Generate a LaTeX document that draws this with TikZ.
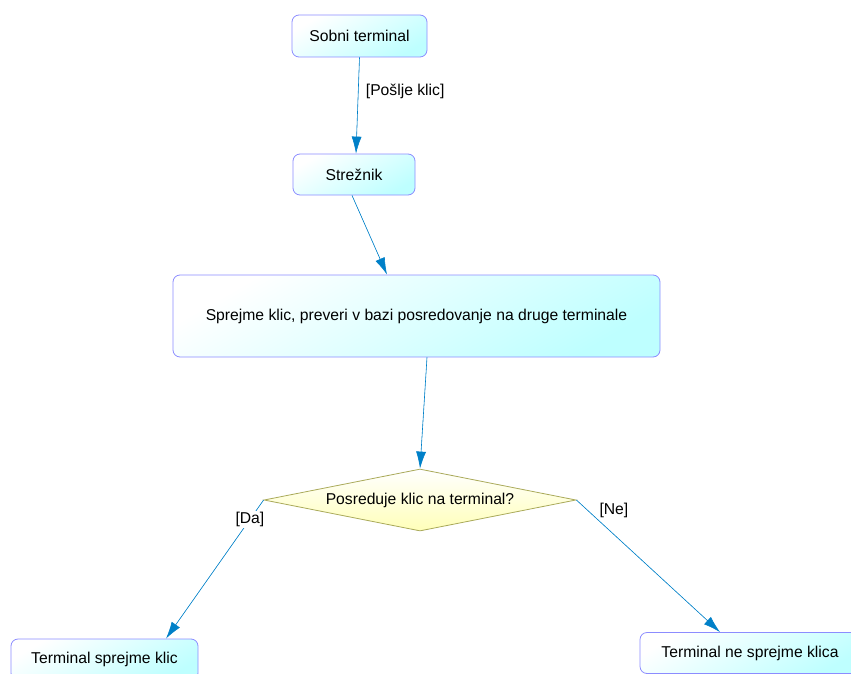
\documentclass[tikz,border=0pt]{standalone}
\usepackage{fontspec}
\setmainfont{Liberation Sans}
\usetikzlibrary{arrows.meta,shapes.geometric}
\definecolor{boxline}{RGB}{140,140,255}
\definecolor{boxfill}{RGB}{190,255,255}
\definecolor{decline}{RGB}{170,170,90}
\definecolor{decfill}{RGB}{255,255,185}
\definecolor{flowblue}{RGB}{0,128,200}
\begin{document}
\begin{tikzpicture}[x=1pt,y=-1pt,
  font=\fontsize{15.7}{18}\selectfont,
  actbox/.style={draw=boxline, line width=0.8pt, rounded corners=7pt, top color=white, bottom color=boxfill, shading angle=30, inner sep=0pt},
  decbox/.style={diamond, draw=decline, line width=0.8pt, top color=white, bottom color=decfill, inner sep=0pt, aspect=5},
  flow/.style={draw=flowblue, line width=0.6pt, -{Latex[length=17pt,width=10pt]}, fill=flowblue}]
\useasboundingbox (0,0) rectangle (851,674);
\node[actbox, minimum width=135pt, minimum height=42pt] (sobni) at (359.5,36) {Sobni terminal};
\node[actbox, minimum width=122pt, minimum height=41pt] (strez) at (354,174.5) {Strežnik};
\node[actbox, minimum width=487pt, minimum height=82pt] (sprejme) at (416.5,316) {Sprejme klic, preveri v bazi posredovanje na druge terminale};
\node[decbox, minimum width=312pt, minimum height=62pt] (dec) at (420,500) {Posreduje klic na terminal?};
\node[actbox, minimum width=187pt, minimum height=41pt] (da) at (104.5,659.5) {Terminal sprejme klic};
\node[actbox, minimum width=220pt, minimum height=41pt] (ne) at (750,653) {Terminal ne sprejme klica};
\draw[flow] (sobni.south) -- node[pos=0.35, right, xshift=4pt, fill=none] {[Pošlje klic]} ([xshift=2pt]strez.north);
\draw[flow] ([xshift=-2pt]strez.south) -- ([xshift=-29.5pt]sprejme.north);
\draw[flow] ([xshift=10.5pt]sprejme.south) -- (dec.north);
\draw[flow] (dec.west) -- node[pos=0.14, fill=white, inner sep=1pt] {[Da]} ([xshift=61.5pt]da.north);
\draw[flow] (dec.east) -- node[pos=0.08, anchor=west, xshift=8pt, fill=none] {[Ne]} ([xshift=-30pt]ne.north);
\end{tikzpicture}
\end{document}
